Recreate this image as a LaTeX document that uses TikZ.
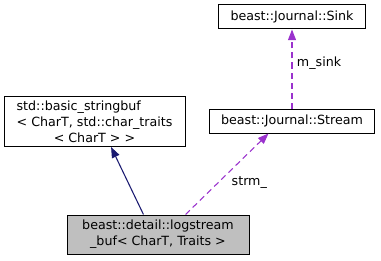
\documentclass[tikz,border=0pt]{standalone}
\usepackage{fontspec}
\setmainfont{DejaVu Sans}
\usepackage{calc}
\usetikzlibrary{arrows.meta}
\definecolor{edgeblue}{HTML}{191970}
\definecolor{edgepurple}{HTML}{9A32CD}
\definecolor{boxgray}{HTML}{BFBFBF}

\begin{document}
\begin{tikzpicture}[x=0.75pt, y=-0.75pt, thin,
    every node/.style={font=\fontsize{9.5}{12}\selectfont},
    classbox/.style={draw=black, line width=0.75pt, rectangle, align=center, inner sep=0pt},
    inherit/.style={draw=edgeblue, line width=0.8pt, -{Triangle[length=8pt, width=6pt]}},
    member/.style={draw=edgepurple, line width=0.8pt, dash pattern=on 4.5pt off 3pt, -{Triangle[length=8pt, width=6pt]}}]
    \useasboundingbox (0,0) rectangle (381,260);
    \node[classbox, minimum width=147*0.75pt, minimum height=24*0.75pt] (sink) at (292,17) {beast::Journal::Sink};
    \node[classbox, minimum width=165*0.75pt, minimum height=24*0.75pt] (stream) at (292,121) {beast::Journal::Stream};
    \node[classbox, minimum width=181*0.75pt, minimum height=50*0.75pt] (strbuf) at (94.5,121.5)
      {\makebox[\widthof{< CharT, std::char\_traits}][l]{std::basic\_stringbuf}\\
       < CharT, std::char\_traits\\ < CharT > >};
    \node[classbox, fill=boxgray, minimum width=182*0.75pt, minimum height=39*0.75pt] (logbuf) at (158,234.5)
      {beast::detail::logstream\\ \_buf< CharT, Traits >};
    \draw[inherit] (logbuf.126) -- (strbuf.303);
    \draw[member] (logbuf.36) -- (stream.208) node[pos=0.4, right=6pt, text=black] {strm\_};
    \draw[member] (stream.north) -- (sink.south) node[pos=0.575, right=0pt, text=black] {m\_sink};
  \end{tikzpicture}
\end{document}
